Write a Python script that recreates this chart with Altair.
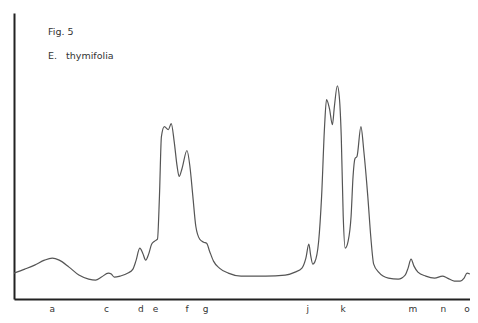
import altair as alt
import pandas as pd

# densitometer trace (x along the strip, y = absorbance height above baseline)
trace_x = [0, 11, 21, 31, 39, 46, 56, 66, 76, 83, 89, 96, 99, 102, 108, 116, 121, 124, 128, 131,
           134, 137, 140, 143, 146, 148, 150, 153, 157, 160, 163, 166, 168, 171, 176, 179, 182, 185,
           189, 193, 196, 199, 203, 209, 218, 231, 256, 276, 286, 293, 297, 300, 302, 304, 306, 310,
           313, 316, 318, 321, 324, 326, 329, 331, 333, 335, 337, 340, 343, 345, 347, 349, 353, 356,
           360, 363, 366, 371, 381, 391, 398, 401, 404, 407, 411, 419, 428, 436, 441, 448, 454, 458,
           461, 464]
trace_y = [26, 30, 34, 39, 41, 39, 32, 24, 20, 19, 22, 26, 25, 22, 23, 26, 30, 38, 51, 46,
           39, 45, 55, 58, 60, 103, 163, 173, 170, 176, 158, 133, 123, 131, 149, 133, 103, 73,
           60, 57, 56, 48, 38, 31, 26, 23, 23, 24, 27, 31, 41, 55, 43, 35, 37, 58,
           103, 173, 200, 191, 175, 193, 214, 203, 163, 83, 51, 58, 83, 123, 141, 143, 173, 148,
           103, 63, 35, 27, 21, 20, 24, 31, 40, 33, 27, 23, 21, 23, 21, 18, 18, 21,
           26, 25]

# band labels along the strip
label_pos = [39, 94, 129, 144, 176, 195, 299, 335, 406, 437, 461]
label_text = ["a", "c", "d", "e", "f", "g", "j", "k", "m", "n", "o"]

title_lines = ["Fig. 5", "E.\u00a0\u00a0\u00a0thymifolia"]

df = pd.DataFrame({"x": trace_x, "y": trace_y})
labels = pd.DataFrame({"pos": label_pos, "lab": label_text})

xscale = alt.Scale(domain=[0, 464], nice=False, zero=False)
yscale = alt.Scale(domain=[0, 287], nice=False, zero=False)

axis_style = dict(domain=True, domainColor="#222222", domainWidth=2, ticks=False,
                  labels=False, grid=False, title=None)

line = alt.Chart(df).mark_line(color="#555555", strokeWidth=1.2, interpolate="monotone").encode(
    x=alt.X("x:Q", scale=xscale, axis=alt.Axis(**axis_style)),
    y=alt.Y("y:Q", scale=yscale, axis=alt.Axis(**axis_style)),
)

band_labels = alt.Chart(labels).mark_text(
    font="DejaVu Sans", fontSize=9, color="#333333", baseline="alphabetic", align="center"
).encode(
    x=alt.X("pos:Q", scale=xscale),
    y=alt.value(298.5),
    text="lab:N",
)

t1 = alt.Chart(pd.DataFrame({"t": [title_lines[0]]})).mark_text(
    font="DejaVu Sans", fontSize=9.5, color="#333333", align="left", baseline="middle"
).encode(x=alt.value(34), y=alt.value(19), text="t:N")

t2 = alt.Chart(pd.DataFrame({"t": [title_lines[1]]})).mark_text(
    font="DejaVu Sans", fontSize=9.5, color="#333333", align="left", baseline="middle"
).encode(x=alt.value(34), y=alt.value(43), text="t:N")

chart = alt.layer(line, band_labels, t1, t2).properties(
    width=456, height=286,
    autosize="none",
    padding={"left": 6, "top": 5, "right": 0, "bottom": 16},
).configure_view(stroke=None)

chart.save("out.html", embed_options={"renderer": "svg", "actions": False})
